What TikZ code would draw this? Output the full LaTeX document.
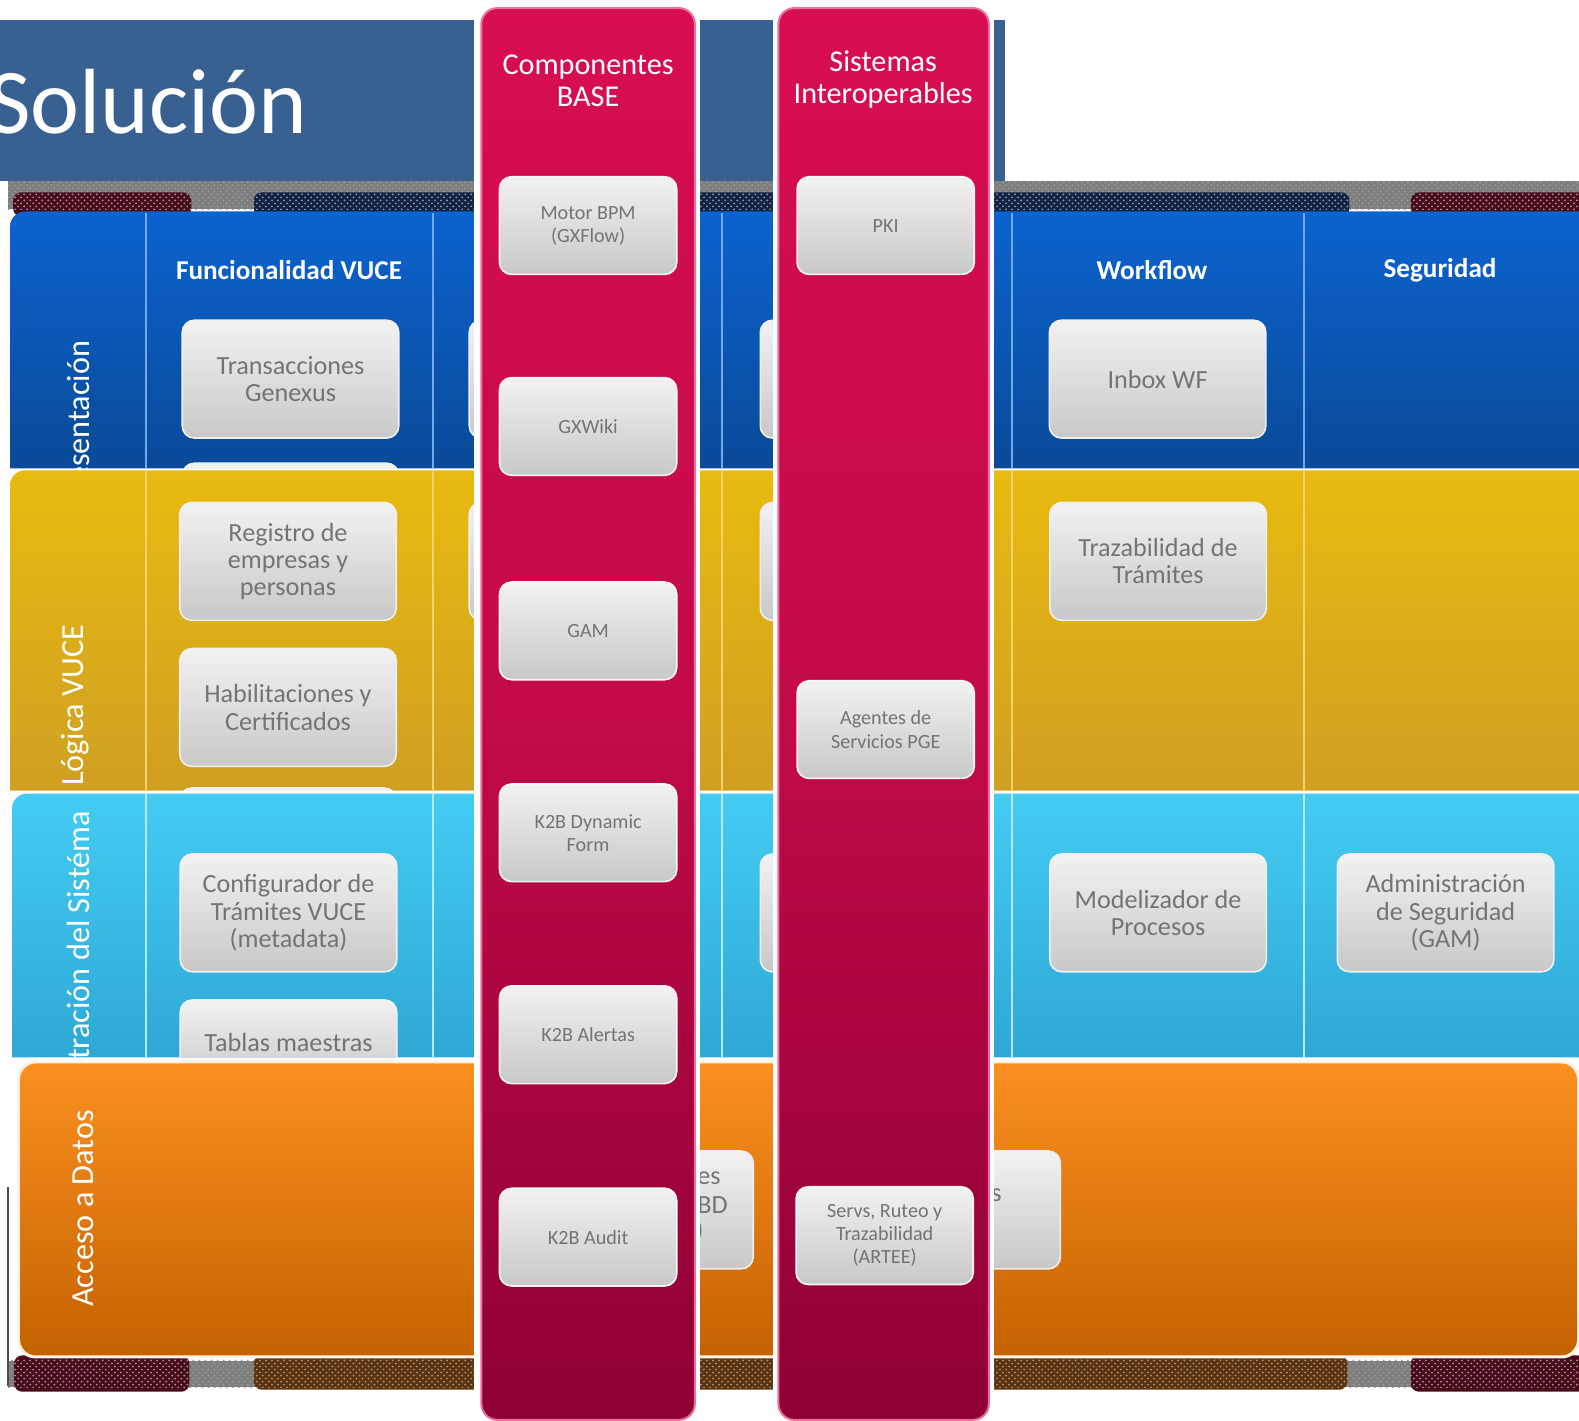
\documentclass[tikz,border=0pt]{standalone}
\usepackage{fontspec}
\setmainfont{Carlito}
\usetikzlibrary{patterns}
\definecolor{banner}{HTML}{386192}
\definecolor{bluetop}{HTML}{0B63CF}
\definecolor{bluebot}{HTML}{0A4A98}
\definecolor{bluediv}{HTML}{6FA9EE}
\definecolor{yeltop}{HTML}{E9BA0F}
\definecolor{yelbot}{HTML}{CFA022}
\definecolor{yeldiv}{HTML}{F2D36A}
\definecolor{cyantop}{HTML}{44CCF3}
\definecolor{cyanbot}{HTML}{2EA8D5}
\definecolor{cyandiv}{HTML}{B2ECFC}
\definecolor{orgtop}{HTML}{FB9021}
\definecolor{orgbot}{HTML}{C46200}
\definecolor{pinktop}{HTML}{D80D53}
\definecolor{pinkmid}{HTML}{C20A4A}
\definecolor{pinkbot}{HTML}{8E0035}
\definecolor{pinkedge}{HTML}{EE6F9B}
\definecolor{boxtop}{HTML}{F2F2F2}
\definecolor{boxbot}{HTML}{C8C8C8}
\definecolor{boxtext}{HTML}{747474}
\definecolor{bandgray}{HTML}{7E7E7E}
\definecolor{banddred}{HTML}{4A0A1C}
\definecolor{banddblue}{HTML}{102346}
\definecolor{banddorg}{HTML}{5E320A}
\tikzset{
  lbox/.style={draw=white!88!gray, line width=0.8pt, rounded corners=6pt,
    top color=boxtop, bottom color=boxbot, text=boxtext, align=center,
    inner sep=0pt, minimum width=107.5pt, minimum height=58.5pt,
    font=\fontsize{13}{13.5}\selectfont},
  pbox/.style={lbox, draw=white!85!pink, minimum width=88pt, minimum height=48.5pt,
    font=\fontsize{10}{11.5}\selectfont},
  hdr/.style={text=white, inner sep=0pt, font=\bfseries\fontsize{13.5}{16}\selectfont},
  lbl/.style={text=white, rotate=90, inner sep=0pt, font=\fontsize{16}{16}\selectfont},
  phdr/.style={text=white, align=center, inner sep=0pt, font=\fontsize{15}{16}\selectfont},
  frag/.style={text=boxtext, inner sep=0pt, font=\fontsize{13}{13.5}\selectfont},
  pinkcol/.style={draw=pinkedge, line width=1pt, top color=pinktop, bottom color=pinkbot,
    middle color=pinkmid, rounded corners=8pt},
  halftone/.style={pattern=crosshatch dots, pattern color=gray!80!white}
}
\begin{document}
\begin{tikzpicture}[x=0.5pt,y=-0.5pt]
\useasboundingbox (0,0) rectangle (1568,1411);
\fill[white] (0,0) rectangle (1568,1411);
% title banner
\fill[banner] (0,20) rectangle (998,180);
\node[anchor=base west, inner sep=0pt, text=white, font=\fontsize{46}{46}\selectfont] (title) at (-12,133) {Solución};
% top shadow band
\fill[bandgray] (8,180) rectangle (1568,208);
\fill[banddred, rounded corners=4pt] (13,191) rectangle (190,215);
\fill[banddblue, rounded corners=4pt] (252,191) rectangle (1340,215);
\fill[banddred, rounded corners=4pt] (1401,191) rectangle (1575,215);
\fill[halftone] (8,180) rectangle (1568,208);
% bottom shadow band
\fill[bandgray] (8,1352) rectangle (1568,1377);
\fill[banddred, rounded corners=4pt] (14,1346) rectangle (188,1382);
\fill[banddorg, rounded corners=4pt] (252,1346) rectangle (1338,1380);
\fill[banddred, rounded corners=4pt] (1401,1346) rectangle (1575,1382);
\fill[halftone] (8,1350) rectangle (1568,1378);
% ---------- blue layer ----------
\path[top color=bluetop, bottom color=bluebot] (10,465) -- (10,225) to[out=90,in=180] (25,210) -- (1568,210) -- (1568,465) -- cycle;
\foreach \xx in {145,430,717,1005,1295} \draw[bluediv, line width=1pt] (\xx,212) -- (\xx,465);
\begin{scope}
\clip (10,210) rectangle (1568,465);
\node[lbl, anchor=east] (lP) at (78,338) {Presentación};
\node[hdr] (hF) at (287,268) {Funcionalidad VUCE};
\node[hdr] (hW) at (1144,268) {Workflow};
\node[hdr] (hS) at (1430,268) {Seguridad};
\node[lbox] (tg) at (288.5,376.5) {Transacciones\\Genexus};
\node[lbox] (b1h) at (288.5,518.5) {};
\node[lbox] (c2a) at (573.5,376.5) {};
\node[lbox] (c3a) at (862.5,376.5) {};
\node[lbox] (inbox) at (1149.5,376.5) {Inbox WF};
\end{scope}
% ---------- yellow layer ----------
\path[top color=yeltop, bottom color=yelbot] (10,785) -- (10,482) to[out=90,in=180] (25,467) -- (1568,467) -- (1568,785) -- cycle;
\foreach \xx in {145,430,717,1005,1295} \draw[yeldiv, line width=1pt] (\xx,467) -- (\xx,785);
\begin{scope}
\clip (10,467) rectangle (1568,785);
\node[lbl, anchor=east] (lL) at (75,620) {Lógica VUCE};
\node[lbox] (reg) at (286,557.5) {Registro de\\empresas y\\personas};
\node[lbox] (hab) at (286,702.5) {Habilitaciones y\\Certificados};
\node[lbox] (b2h) at (286,841) {};
\node[lbox] (c2b) at (573.5,557.5) {};
\node[lbox] (c3b) at (862.5,557.5) {};
\node[lbox] (traz) at (1150,557.5) {Trazabilidad de\\Trámites};
\end{scope}
% ---------- cyan layer ----------
\path[top color=cyantop, bottom color=cyanbot] (12,1050) -- (12,803) to[out=90,in=180] (27,788) -- (1568,788) -- (1568,1050) -- cycle;
\foreach \xx in {145,430,717,1005,1295} \draw[cyandiv, line width=1pt] (\xx,788) -- (\xx,1050);
\begin{scope}
\clip (12,788) rectangle (1568,1050);
\node[lbl, anchor=east] (lA) at (78,805) {Administración del Sistéma};
\node[lbox] (conf) at (286.5,906.5) {Configurador de\\Trámites VUCE\\(metadata)};
\node[lbox, minimum height=42pt] (tab) at (286.5,1035) {Tablas maestras};
\node[lbox] (c3c) at (862.5,906.5) {};
\node[lbox] (mod) at (1150,906.5) {Modelizador de\\Procesos};
\node[lbox] (adm) at (1435.5,906.5) {Administración\\de Seguridad\\(GAM)};
\end{scope}
% ---------- orange layer ----------
\fill[white!90!orange, rounded corners=9pt] (17,1053) rectangle (1569,1349);
\path[top color=orgtop, bottom color=orgbot, rounded corners=8pt] (20,1056) rectangle (1566,1346);
\draw[gray!60!black, line width=0.8pt] (8,1179) -- (8,1376);
\node[lbl] (lD) at (83,1200) {Acceso a Datos};
\node[lbox] (o1) at (640.5,1201.5) {};
\node[lbox] (o2) at (945.5,1201.5) {};
\node[frag, anchor=east] (f1) at (716,1170) {es};
\node[frag, anchor=east] (f2) at (723,1197) {BD};
\node[frag, anchor=east] (f3) at (699,1222) {)};
\node[frag, anchor=west] (f4) at (984,1187) {s};
% ---------- pink columns ----------
\fill[white] (471,0) rectangle (695,1411);
\fill[white] (768,0) rectangle (987,1411);
\path[pinkcol] (478,8) rectangle (690,1410);
\path[pinkcol] (773,8) rectangle (982,1410);
\node[phdr] (hB) at (584,80) {Componentes\\BASE};
\node[phdr] (hI) at (877,79) {Sistemas\\Interoperables};
\node[pbox] (mbpm) at (584,224) {Motor BPM\\(GXFlow)};
\node[pbox] (gxw) at (584,423.5) {GXWiki};
\node[pbox] (gam) at (584,626.5) {GAM};
\node[pbox] (k2bd) at (584,827) {K2B Dynamic\\Form};
\node[pbox] (k2ba) at (584,1027.5) {K2B Alertas};
\node[pbox] (k2bau) at (584,1228.5) {K2B Audit};
\node[pbox] (pki) at (879.5,224) {PKI};
\node[pbox] (agt) at (879.5,724.5) {Agentes de\\Servicios PGE};
\node[pbox] (serv) at (878.5,1227) {Servs, Ruteo y\\Trazabilidad\\(ARTEE)};
\end{tikzpicture}
\end{document}
